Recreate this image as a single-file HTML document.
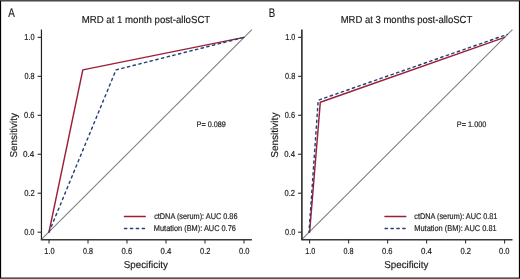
<!DOCTYPE html>
<html><head><meta charset="utf-8"><style>
html,body{margin:0;padding:0;background:#fff;}
body{width:520px;height:279px;overflow:hidden;}
svg{display:block;will-change:transform;}
text{font-family:"Liberation Sans", sans-serif;fill:#1c1c1c;stroke:#1c1c1c;stroke-width:0.18px;text-rendering:geometricPrecision;}
</style></head><body>
<svg width="520" height="279" viewBox="0 0 520 279" shape-rendering="geometricPrecision">
<rect x="0" y="0" width="520" height="279" fill="#fff"/>
<line x1="41.45" y1="239.45" x2="251.90" y2="29.55" stroke="#808080" stroke-width="1.1"/>
<line x1="41.45" y1="29.55" x2="41.45" y2="240.05" stroke="#222222" stroke-width="1.2"/>
<line x1="40.85" y1="239.75" x2="251.90" y2="239.75" stroke="#383838" stroke-width="1.6"/>
<line x1="37.65" y1="232.20" x2="41.45" y2="232.20" stroke="#333" stroke-width="1.15"/>
<line x1="37.65" y1="193.23" x2="41.45" y2="193.23" stroke="#333" stroke-width="1.15"/>
<line x1="37.65" y1="154.27" x2="41.45" y2="154.27" stroke="#333" stroke-width="1.15"/>
<line x1="37.65" y1="115.30" x2="41.45" y2="115.30" stroke="#333" stroke-width="1.15"/>
<line x1="37.65" y1="76.34" x2="41.45" y2="76.34" stroke="#333" stroke-width="1.15"/>
<line x1="37.65" y1="37.37" x2="41.45" y2="37.37" stroke="#333" stroke-width="1.15"/>
<line x1="49.00" y1="239.45" x2="49.00" y2="243.45" stroke="#2e2e2e" stroke-width="1.05"/>
<line x1="88.00" y1="239.45" x2="88.00" y2="243.45" stroke="#2e2e2e" stroke-width="1.05"/>
<line x1="127.00" y1="239.45" x2="127.00" y2="243.45" stroke="#2e2e2e" stroke-width="1.05"/>
<line x1="166.00" y1="239.45" x2="166.00" y2="243.45" stroke="#2e2e2e" stroke-width="1.05"/>
<line x1="205.00" y1="239.45" x2="205.00" y2="243.45" stroke="#2e2e2e" stroke-width="1.05"/>
<line x1="244.00" y1="239.45" x2="244.00" y2="243.45" stroke="#2e2e2e" stroke-width="1.05"/>
<polyline points="49.00,232.20 82.80,69.84 243.96,37.37" fill="none" stroke="#9b1f38" stroke-width="1.45" stroke-linecap="round" stroke-linejoin="round"/>
<polyline points="49.00,232.20 116.00,69.90 243.96,37.37" fill="none" stroke="#244274" stroke-width="1.45" stroke-dasharray="2.3 3.55" stroke-dashoffset="-0.25" stroke-linecap="round" stroke-linejoin="round"/>
<line x1="124.40" y1="216.45" x2="145.20" y2="216.45" stroke="#9b1f38" stroke-width="1.45" stroke-linecap="round"/>
<line x1="124.50" y1="228.55" x2="145.90" y2="228.55" stroke="#244274" stroke-width="1.45" stroke-dasharray="2.3 3.6" stroke-linecap="round"/>
<line x1="301.90" y1="239.45" x2="512.50" y2="29.55" stroke="#808080" stroke-width="1.1"/>
<line x1="301.90" y1="29.55" x2="301.90" y2="240.05" stroke="#151515" stroke-width="1.45"/>
<line x1="301.30" y1="239.75" x2="512.50" y2="239.75" stroke="#383838" stroke-width="1.6"/>
<line x1="298.10" y1="232.20" x2="301.90" y2="232.20" stroke="#333" stroke-width="1.15"/>
<line x1="298.10" y1="193.23" x2="301.90" y2="193.23" stroke="#333" stroke-width="1.15"/>
<line x1="298.10" y1="154.27" x2="301.90" y2="154.27" stroke="#333" stroke-width="1.15"/>
<line x1="298.10" y1="115.30" x2="301.90" y2="115.30" stroke="#333" stroke-width="1.15"/>
<line x1="298.10" y1="76.34" x2="301.90" y2="76.34" stroke="#333" stroke-width="1.15"/>
<line x1="298.10" y1="37.37" x2="301.90" y2="37.37" stroke="#333" stroke-width="1.15"/>
<line x1="309.60" y1="239.45" x2="309.60" y2="243.45" stroke="#2e2e2e" stroke-width="1.05"/>
<line x1="348.60" y1="239.45" x2="348.60" y2="243.45" stroke="#2e2e2e" stroke-width="1.05"/>
<line x1="387.60" y1="239.45" x2="387.60" y2="243.45" stroke="#2e2e2e" stroke-width="1.05"/>
<line x1="426.60" y1="239.45" x2="426.60" y2="243.45" stroke="#2e2e2e" stroke-width="1.05"/>
<line x1="465.60" y1="239.45" x2="465.60" y2="243.45" stroke="#2e2e2e" stroke-width="1.05"/>
<line x1="504.60" y1="239.45" x2="504.60" y2="243.45" stroke="#2e2e2e" stroke-width="1.05"/>
<polyline points="309.60,232.20 320.30,102.30 504.60,37.37" fill="none" stroke="#9b1f38" stroke-width="1.45" stroke-linecap="round" stroke-linejoin="round"/>
<polyline points="309.00,232.30 318.20,100.20 507.30,34.40" fill="none" stroke="#244274" stroke-width="1.45" stroke-dasharray="2.3 3.55" stroke-dashoffset="1.0" stroke-linecap="round" stroke-linejoin="round"/>
<line x1="385.00" y1="216.45" x2="405.80" y2="216.45" stroke="#9b1f38" stroke-width="1.45" stroke-linecap="round"/>
<line x1="385.10" y1="228.55" x2="406.50" y2="228.55" stroke="#244274" stroke-width="1.45" stroke-dasharray="2.3 3.6" stroke-linecap="round"/>
<rect x="0" y="0" width="520" height="1" fill="#4b4b4b"/>
<rect x="0" y="1" width="520" height="1" fill="#a0a0a0"/>
<rect x="0" y="277" width="520" height="1" fill="#8f8f8f"/>
<rect x="0" y="278" width="520" height="1" fill="#545454"/>
<rect x="0" y="1" width="1" height="277" fill="#000"/>
<rect x="1" y="2" width="0.12" height="275" fill="#000"/>
<rect x="519" y="1" width="1" height="277" fill="#000"/>
<rect x="518.88" y="2" width="0.12" height="275" fill="#000"/>
<text x="8.20" y="17.00" font-size="12.50" textLength="6.54" lengthAdjust="spacingAndGlyphs">A</text>
<text x="34.45" y="235.00" font-size="8.70" text-anchor="end" textLength="10.31" lengthAdjust="spacingAndGlyphs">0.0</text>
<text x="34.67" y="196.00" font-size="8.70" text-anchor="end" textLength="10.53" lengthAdjust="spacingAndGlyphs">0.2</text>
<text x="34.29" y="157.00" font-size="8.70" text-anchor="end" textLength="11.26" lengthAdjust="spacingAndGlyphs">0.4</text>
<text x="34.50" y="118.00" font-size="8.70" text-anchor="end" textLength="10.44" lengthAdjust="spacingAndGlyphs">0.6</text>
<text x="34.58" y="79.00" font-size="8.70" text-anchor="end" textLength="10.15" lengthAdjust="spacingAndGlyphs">0.8</text>
<text x="34.58" y="40.00" font-size="8.70" text-anchor="end" textLength="10.27" lengthAdjust="spacingAndGlyphs">1.0</text>
<text x="49.49" y="254.00" font-size="8.70" text-anchor="middle" textLength="10.28" lengthAdjust="spacingAndGlyphs">1.0</text>
<text x="88.04" y="254.00" font-size="8.70" text-anchor="middle" textLength="9.89" lengthAdjust="spacingAndGlyphs">0.8</text>
<text x="126.93" y="254.00" font-size="8.70" text-anchor="middle" textLength="10.66" lengthAdjust="spacingAndGlyphs">0.6</text>
<text x="165.99" y="254.00" font-size="8.70" text-anchor="middle" textLength="10.82" lengthAdjust="spacingAndGlyphs">0.4</text>
<text x="205.20" y="254.00" font-size="8.70" text-anchor="middle" textLength="10.48" lengthAdjust="spacingAndGlyphs">0.2</text>
<text x="244.24" y="254.00" font-size="8.70" text-anchor="middle" textLength="10.45" lengthAdjust="spacingAndGlyphs">0.0</text>
<text x="123.67" y="268.00" font-size="10.00" textLength="44.33" lengthAdjust="spacingAndGlyphs">Specificity</text>
<text transform="translate(17.00 157.43) rotate(-90)" font-size="10.00" textLength="44.22" lengthAdjust="spacingAndGlyphs">Sensitivity</text>
<text x="268.70" y="17.00" font-size="12.50" textLength="6.47" lengthAdjust="spacingAndGlyphs">B</text>
<text x="295.31" y="235.00" font-size="8.70" text-anchor="end" textLength="10.21" lengthAdjust="spacingAndGlyphs">0.0</text>
<text x="295.06" y="196.00" font-size="8.70" text-anchor="end" textLength="10.48" lengthAdjust="spacingAndGlyphs">0.2</text>
<text x="295.06" y="157.00" font-size="8.70" text-anchor="end" textLength="10.77" lengthAdjust="spacingAndGlyphs">0.4</text>
<text x="295.00" y="118.00" font-size="8.70" text-anchor="end" textLength="10.26" lengthAdjust="spacingAndGlyphs">0.6</text>
<text x="295.20" y="79.00" font-size="8.70" text-anchor="end" textLength="10.16" lengthAdjust="spacingAndGlyphs">0.8</text>
<text x="295.27" y="40.00" font-size="8.70" text-anchor="end" textLength="10.11" lengthAdjust="spacingAndGlyphs">1.0</text>
<text x="310.26" y="254.00" font-size="8.70" text-anchor="middle" textLength="10.01" lengthAdjust="spacingAndGlyphs">1.0</text>
<text x="348.46" y="254.00" font-size="8.70" text-anchor="middle" textLength="10.00" lengthAdjust="spacingAndGlyphs">0.8</text>
<text x="387.32" y="254.00" font-size="8.70" text-anchor="middle" textLength="10.45" lengthAdjust="spacingAndGlyphs">0.6</text>
<text x="426.43" y="254.00" font-size="8.70" text-anchor="middle" textLength="10.98" lengthAdjust="spacingAndGlyphs">0.4</text>
<text x="465.80" y="254.00" font-size="8.70" text-anchor="middle" textLength="10.60" lengthAdjust="spacingAndGlyphs">0.2</text>
<text x="504.26" y="254.00" font-size="8.70" text-anchor="middle" textLength="10.42" lengthAdjust="spacingAndGlyphs">0.0</text>
<text x="384.18" y="268.00" font-size="10.00" textLength="44.16" lengthAdjust="spacingAndGlyphs">Specificity</text>
<text transform="translate(277.60 157.77) rotate(-90)" font-size="10.00" textLength="45.18" lengthAdjust="spacingAndGlyphs">Sensitivity</text>
<text x="81.68" y="23.00" font-size="10.20" textLength="128.60" lengthAdjust="spacingAndGlyphs">MRD at 1 month post-alloSCT</text>
<text x="340.65" y="23.00" font-size="10.20" textLength="131.62" lengthAdjust="spacingAndGlyphs">MRD at 3 months post-alloSCT</text>
<text x="196.60" y="127.00" font-size="8.00" textLength="29.20" lengthAdjust="spacingAndGlyphs">P= 0.089</text>
<text x="456.87" y="127.00" font-size="8.00" textLength="29.49" lengthAdjust="spacingAndGlyphs">P= 1.000</text>
<text x="154.13" y="219.00" font-size="8.30" textLength="83.36" lengthAdjust="spacingAndGlyphs">ctDNA (serum): AUC 0.86</text>
<text x="153.87" y="231.00" font-size="8.30" textLength="82.02" lengthAdjust="spacingAndGlyphs">Mutation (BM): AUC 0.76</text>
<text x="414.34" y="219.00" font-size="8.30" textLength="83.07" lengthAdjust="spacingAndGlyphs">ctDNA (serum): AUC 0.81</text>
<text x="414.33" y="231.00" font-size="8.30" textLength="82.30" lengthAdjust="spacingAndGlyphs">Mutation (BM): AUC 0.81</text>
</svg>
</body></html>
